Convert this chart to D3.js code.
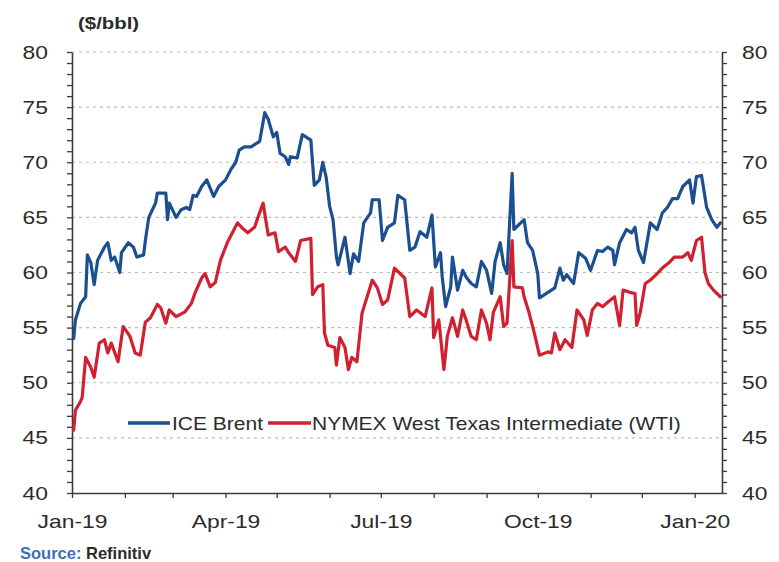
<!DOCTYPE html>
<html>
<head>
<meta charset="utf-8">
<script src="https://cdn.jsdelivr.net/npm/d3@7"></script>
<style>
  html, body { margin: 0; padding: 0; background: #fff; }
  svg { display: block; font-family: "Liberation Sans", Arial, sans-serif; }
</style>
</head>
<body>
<script>
// ---------------- DATA ----------------
const seriesNames = ["ICE Brent", "NYMEX West Texas Intermediate (WTI)"];
const yTickLabels = [40, 45, 50, 55, 60, 65, 70, 75, 80];
const xTickLabels = ["Jan-19", "Apr-19", "Jul-19", "Oct-19", "Jan-20"];

const brentDates = ["2019-01-02","2019-01-03","2019-01-06","2019-01-09","2019-01-10","2019-01-12","2019-01-14","2019-01-16","2019-01-20","2019-01-22","2019-01-24","2019-01-26","2019-01-29","2019-01-30","2019-02-03","2019-02-06","2019-02-08","2019-02-12","2019-02-13","2019-02-15","2019-02-19","2019-02-20","2019-02-25","2019-02-26","2019-02-27","2019-03-03","2019-03-06","2019-03-09","2019-03-11","2019-03-13","2019-03-15","2019-03-18","2019-03-21","2019-03-25","2019-03-28","2019-04-01","2019-04-04","2019-04-07","2019-04-09","2019-04-12","2019-04-16","2019-04-21","2019-04-24","2019-04-26","2019-04-29","2019-05-01","2019-05-03","2019-05-06","2019-05-08","2019-05-09","2019-05-13","2019-05-16","2019-05-21","2019-05-23","2019-05-26","2019-05-28","2019-05-30","2019-06-01","2019-06-03","2019-06-05","2019-06-06","2019-06-10","2019-06-13","2019-06-15","2019-06-18","2019-06-21","2019-06-25","2019-06-26","2019-06-30","2019-07-02","2019-07-05","2019-07-09","2019-07-11","2019-07-15","2019-07-18","2019-07-21","2019-07-24","2019-07-28","2019-07-31","2019-08-02","2019-08-05","2019-08-06","2019-08-08","2019-08-11","2019-08-12","2019-08-15","2019-08-18","2019-08-20","2019-08-23","2019-08-26","2019-08-29","2019-09-01","2019-09-04","2019-09-06","2019-09-09","2019-09-11","2019-09-13","2019-09-16","2019-09-17","2019-09-21","2019-09-23","2019-09-25","2019-09-28","2019-10-01","2019-10-02","2019-10-07","2019-10-11","2019-10-14","2019-10-16","2019-10-18","2019-10-22","2019-10-25","2019-10-29","2019-11-01","2019-11-05","2019-11-08","2019-11-11","2019-11-14","2019-11-15","2019-11-18","2019-11-22","2019-11-25","2019-11-27","2019-11-29","2019-12-02","2019-12-06","2019-12-10","2019-12-13","2019-12-16","2019-12-19","2019-12-22","2019-12-25","2019-12-29","2019-12-31","2020-01-02","2020-01-05","2020-01-08","2020-01-11","2020-01-14","2020-01-16"];
const brentValues = [54.0,55.7,57.2,57.8,61.6,60.9,58.9,61.1,62.3,62.7,61.1,61.4,60.0,61.8,62.7,62.3,61.4,61.6,62.9,65.0,66.3,67.2,67.2,64.8,66.3,65.0,65.7,65.9,65.7,67.0,66.9,67.8,68.4,66.9,67.8,68.4,69.3,70.0,71.1,71.4,71.4,71.9,74.5,73.9,72.3,72.7,70.8,70.5,69.8,70.5,70.4,72.5,72.0,67.9,68.4,70.0,68.6,66.0,64.8,61.4,60.7,63.2,59.9,61.7,61.0,64.5,65.4,66.6,66.6,62.9,64.1,64.5,67.0,66.6,62.0,62.3,63.7,63.2,65.2,60.5,61.8,59.6,56.9,58.7,61.4,58.4,60.2,59.6,59.0,58.7,61.0,60.2,58.1,61.0,62.7,60.7,59.9,69.0,63.9,64.5,64.8,62.7,62.0,59.9,57.7,58.2,58.6,60.4,59.3,59.8,59.0,61.8,61.3,60.2,62.0,61.9,62.3,62.0,60.7,62.7,63.9,63.6,64.1,62.0,60.9,64.5,63.9,65.4,65.9,66.7,66.7,67.8,68.4,66.3,68.7,68.8,65.9,64.8,64.1,64.5];

const wtiDates = ["2019-01-02","2019-01-03","2019-01-06","2019-01-07","2019-01-09","2019-01-12","2019-01-14","2019-01-17","2019-01-20","2019-01-22","2019-01-24","2019-01-28","2019-01-31","2019-02-04","2019-02-07","2019-02-10","2019-02-13","2019-02-16","2019-02-20","2019-02-22","2019-02-25","2019-02-27","2019-03-03","2019-03-08","2019-03-12","2019-03-14","2019-03-18","2019-03-20","2019-03-23","2019-03-26","2019-03-29","2019-04-02","2019-04-05","2019-04-08","2019-04-11","2019-04-14","2019-04-18","2019-04-23","2019-04-26","2019-04-30","2019-05-02","2019-05-06","2019-05-08","2019-05-12","2019-05-15","2019-05-21","2019-05-22","2019-05-25","2019-05-28","2019-05-29","2019-05-31","2019-06-04","2019-06-05","2019-06-07","2019-06-10","2019-06-12","2019-06-14","2019-06-17","2019-06-20","2019-06-23","2019-06-26","2019-06-29","2019-07-02","2019-07-05","2019-07-09","2019-07-15","2019-07-18","2019-07-22","2019-07-27","2019-07-31","2019-08-01","2019-08-04","2019-08-07","2019-08-09","2019-08-12","2019-08-15","2019-08-18","2019-08-20","2019-08-23","2019-08-26","2019-08-29","2019-09-01","2019-09-03","2019-09-05","2019-09-09","2019-09-11","2019-09-13","2019-09-16","2019-09-17","2019-09-22","2019-09-23","2019-09-26","2019-09-29","2019-10-02","2019-10-07","2019-10-09","2019-10-11","2019-10-14","2019-10-17","2019-10-21","2019-10-24","2019-10-28","2019-10-30","2019-11-02","2019-11-05","2019-11-08","2019-11-11","2019-11-15","2019-11-18","2019-11-20","2019-11-24","2019-11-27","2019-11-28","2019-11-30","2019-12-03","2019-12-06","2019-12-10","2019-12-13","2019-12-17","2019-12-20","2019-12-25","2019-12-28","2019-12-30","2020-01-02","2020-01-05","2020-01-07","2020-01-09","2020-01-12","2020-01-16"];
const wtiValues = [45.7,47.5,48.3,48.7,52.3,51.4,50.5,53.6,53.9,52.7,53.6,51.9,55.1,54.2,52.7,52.5,55.5,55.9,57.1,56.8,55.4,56.6,56.0,56.4,57.2,58.1,59.5,59.9,58.7,59.1,61.1,62.7,63.6,64.5,64.0,63.6,64.1,66.3,63.4,63.6,61.9,62.3,61.8,61.0,62.9,63.1,58.0,58.7,58.9,54.5,53.4,53.2,51.6,54.1,53.2,51.2,52.3,51.9,56.3,57.8,59.3,58.6,57.1,57.5,60.4,59.5,56.0,56.6,56.0,58.6,54.1,55.7,51.2,54.2,55.9,54.2,56.6,55.7,54.2,53.9,56.6,55.4,53.9,56.4,57.8,55.1,55.4,62.9,58.7,58.6,57.8,56.3,54.5,52.5,52.8,52.7,54.5,53.0,53.9,53.2,56.6,55.7,54.3,56.6,57.2,56.9,57.3,57.8,55.2,58.4,58.2,58.1,55.2,56.3,59.0,59.3,59.9,60.4,60.9,61.4,61.4,61.8,61.1,62.9,63.2,60.0,59.0,58.4,57.8];

const seriesColors = ["#1b4f8f", "#d1202f"];

// ---------------- CHART ----------------
const W = 779, H = 562;
const parse = d3.timeParse("%Y-%m-%d");
const brent = brentDates.map((d, i) => ({ date: parse(d), v: brentValues[i] }));
const wti = wtiDates.map((d, i) => ({ date: parse(d), v: wtiValues[i] }));

const svg = d3.select("body").append("svg").attr("width", W).attr("height", H);

const pL = 72, pR = 722, pT = 52, pB = 493;
const x = d3.scaleTime().domain([new Date(2019, 0, 1), new Date(2020, 0, 17)]).range([pL, pR]);
const y = d3.scaleLinear().domain([40, 80]).range([pB, pT]);

const textColor = "#2b2b2b";
const sx = 1.27; // horizontal stretch of the reference's lettering

// gridlines
svg.append("g").selectAll("line")
  .data(yTickLabels.filter(v => v > 40))
  .join("line")
  .attr("x1", pL).attr("x2", pR)
  .attr("y1", d => y(d)).attr("y2", d => y(d))
  .attr("stroke", "#bdbdbd").attr("stroke-width", 1.2)
  .attr("stroke-dasharray", "3,4");

// axes
const minorY = d3.range(40, 81, 1);
const fmtY = d => (d % 5 === 0 ? d : "");

const gl = svg.append("g").attr("transform", `translate(${pL},0)`)
  .call(d3.axisLeft(y).tickValues(minorY).tickFormat(fmtY).tickSize(5).tickSizeOuter(0));
gl.selectAll("text").attr("x", 0).attr("dy", "0.34em")
  .attr("transform", `translate(-24,0) scale(${sx},1)`).attr("text-anchor", "end");

const gr = svg.append("g").attr("transform", `translate(${pR},0)`)
  .call(d3.axisRight(y).tickValues(minorY).tickFormat(fmtY).tickSize(5).tickSizeOuter(0));
gr.selectAll("text").attr("x", 0).attr("dy", "0.34em")
  .attr("transform", `translate(20,0) scale(${sx},1)`).attr("text-anchor", "start");

const months = d3.timeMonth.range(new Date(2019, 0, 1), new Date(2020, 0, 2));
const labelOf = d => d.getMonth() % 3 === 0 ? xTickLabels[Math.round((d.getFullYear() - 2019) * 4 + d.getMonth() / 3)] : "";
const gb = svg.append("g").attr("transform", `translate(0,${pB})`)
  .call(d3.axisBottom(x).tickValues(months).tickFormat(labelOf).tickSize(5).tickSizeOuter(0));
gb.selectAll("text").attr("y", 0).attr("dy", "0")
  .attr("transform", `translate(0,35) scale(${sx},1)`);

[gl, gr, gb].forEach(g => {
  g.selectAll("path.domain").attr("stroke", "#3a3a3a").attr("stroke-width", 1.6);
  g.selectAll(".tick line").attr("stroke", "#3a3a3a").attr("stroke-width", 1.3);
  g.selectAll("text").attr("fill", textColor).attr("font-size", 18)
    .attr("font-family", "'Liberation Sans', Arial, sans-serif");
});

// lines
const line = d3.line().x(d => x(d.date)).y(d => y(d.v)).curve(d3.curveLinear);
[brent, wti].forEach((s, i) => {
  svg.append("path").datum(s)
    .attr("fill", "none").attr("stroke", seriesColors[i])
    .attr("stroke-width", 3.2).attr("stroke-linejoin", "round").attr("stroke-linecap", "round")
    .attr("d", line);
});

// unit label
svg.append("text").text("($/bbl)")
  .attr("transform", `translate(78,29) scale(1.2,1)`)
  .attr("font-size", 17).attr("font-weight", "bold").attr("fill", textColor);

// legend
const legendItems = [
  { x1: 128, x2: 170, tx: 172 },
  { x1: 268, x2: 311, tx: 312 }
];
const lg = svg.append("g");
seriesNames.forEach((name, i) => {
  const it = legendItems[i];
  lg.append("line").attr("x1", it.x1).attr("x2", it.x2).attr("y1", 423).attr("y2", 423)
    .attr("stroke", seriesColors[i]).attr("stroke-width", 3.5);
  lg.append("text").text(name)
    .attr("transform", `translate(${it.tx},430) scale(1.2,1)`)
    .attr("font-size", 17.5).attr("fill", textColor);
});

// source
const src = svg.append("text").attr("x", 20).attr("y", 559)
  .attr("font-size", 16.5).attr("font-weight", "bold");
src.append("tspan").text("Source: ").attr("fill", "#3f6fb5");
src.append("tspan").text("Refinitiv").attr("fill", "#2b2b2b");
</script>
</body>
</html>
